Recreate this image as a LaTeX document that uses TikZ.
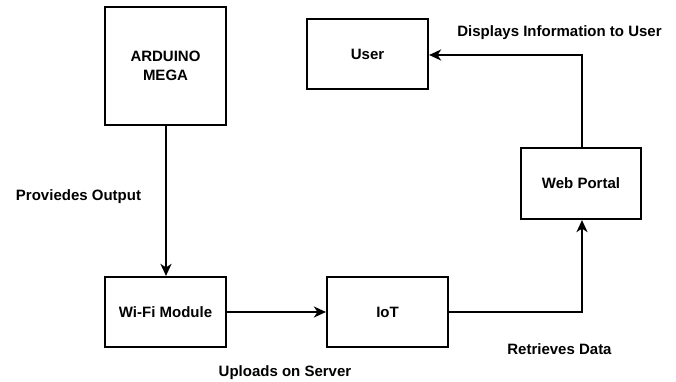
\documentclass[tikz,border=0pt]{standalone}
\usepackage{fontspec}
\setmainfont{Liberation Sans}
\usetikzlibrary{arrows.meta}
\begin{document}
\begin{tikzpicture}[x=1pt,y=-1pt,
  box/.style={draw=black,line width=2.2pt,minimum width=121pt,inner sep=0pt,font=\fontsize{15}{18}\selectfont\bfseries,align=center},
  conn/.style={draw=black,line width=2pt,-{Stealth[length=12pt,width=11pt,inset=3.5pt]}},
  lbl/.style={font=\fontsize{15}{18}\selectfont\bfseries,inner sep=0pt}]
\useasboundingbox (0,0) rectangle (676,382);
\node[box,minimum height=118pt] (ard) at (165.5,66) {ARDUINO\\[1pt]MEGA};
\node[box,minimum height=70pt] (user) at (367.5,54) {User};
\node[box,minimum width=120pt,minimum height=71pt] (web) at (581,183.5) {Web Portal};
\node[box,minimum height=70pt] (wifi) at (165.5,312) {Wi-Fi Module};
\node[box,minimum height=70pt] (iot) at (387.5,312) {IoT};
\coordinate (c1) at (582,312);
\coordinate (c2) at (582,55);
\draw[conn] (ard.south -| 166,0) -- (wifi.north -| 166,0);
\draw[conn] (wifi.east) -- (iot.west);
\draw[conn] (iot.east) -- (c1) -- (web.south -| c1);
\draw[conn] (web.north -| c2) -- (c2) -- (user.east |- c2);
\node[lbl] (l1) at (78.5,197) {Proviedes Output};
\node[lbl] (l2) at (285,373) {Uploads on Server};
\node[lbl] (l3) at (559.5,349) {Retrieves Data};
\node[lbl] (l4) at (559.5,33) {Displays Information to User};
\end{tikzpicture}
\end{document}
